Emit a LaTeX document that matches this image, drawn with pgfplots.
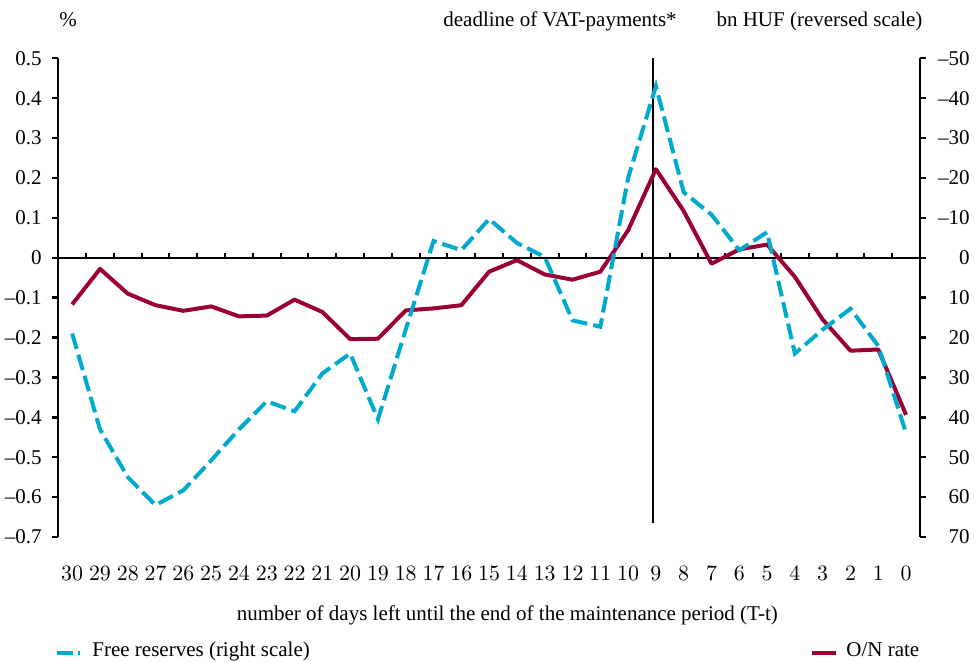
\documentclass[border=0pt]{standalone}
\usepackage{pgfplots}
\pgfplotsset{compat=1.18}
\usepackage{fontspec}
\setmainfont{Liberation Serif}

\definecolor{onred}{RGB}{155,0,52}
\definecolor{frcyan}{RGB}{0,170,205}

% O/N rate, percent (left scale)
\pgfplotstableread{
day rate
30 -0.117
29 -0.028
28 -0.090
27 -0.119
26 -0.133
25 -0.122
24 -0.147
23 -0.145
22 -0.105
21 -0.136
20 -0.204
19 -0.203
18 -0.132
17 -0.127
16 -0.119
15 -0.035
14 -0.006
13 -0.042
12 -0.055
11 -0.035
10 0.069
9 0.222
8 0.117
7 -0.015
6 0.021
5 0.033
4 -0.048
3 -0.155
2 -0.233
1 -0.230
0 -0.394
}\onrate

% free reserves, bn HUF (right scale, reversed)
\pgfplotstableread{
day res
30 19
29 43
28 55
27 62
26 58.3
25 50.8
24 43
23 36
22 38.5
21 29
20 24
19 40.5
18 18
17 -4.2
16 -1.9
15 -9.7
14 -3.7
13 -0.2
12 15.7
11 17.3
10 -20
9 -43
8 -16.4
7 -10.8
6 -1.9
5 -6.4
4 24
3 18
2 12.8
1 22.1
0 44
}\freeres

\pgfplotsset{
  chart/.style={
    width=430.85pt, height=239.35pt, scale only axis,
    at={(0,0)}, anchor=south west,
    xmin=-0.5, xmax=30.5, x dir=reverse,
    clip=false,
    axis line style={black, line width=1.2pt},
    major tick style={draw=none},
  },
}

\begin{document}
\begin{tikzpicture}[font=\fontsize{10.5}{12}\selectfont]
\useasboundingbox (-29.15pt,-62.5pt) rectangle (458.85pt,268.5pt);

\begin{axis}[chart,
  axis y line*=left, axis x line*=bottom,
  x axis line style={draw=none},
  xtick={0,...,30},
  xticklabel style={anchor=base, yshift=-22pt},
  ymin=-0.7, ymax=0.5,
  ytick={-0.7,-0.6,-0.5,-0.4,-0.3,-0.2,-0.1,0,0.1,0.2,0.3,0.4,0.5},
  yticklabels={--0.7,--0.6,--0.5,--0.4,--0.3,--0.2,--0.1,0,0.1,0.2,0.3,0.4,0.5},
  yticklabel style={anchor=east, inner sep=0pt, xshift=-8.15pt},
]
  % outward ticks of the left scale
  \pgfplotsinvokeforeach{-0.7,-0.6,-0.5,-0.4,-0.3,-0.2,-0.1,0,0.1,0.2,0.3,0.4,0.5}{
    \draw[black, line width=1.2pt] (axis cs:30.5,#1) -- ([xshift=-3.2pt]axis cs:30.5,#1);
  }
  % zero line with small ticks between days, and the VAT deadline marker
  \draw[black, line width=1.2pt] (axis cs:30.5,0) -- (axis cs:-0.5,0);
  \pgfplotsinvokeforeach{0,...,29}{
    \draw[black, line width=1pt] (axis cs:#1+0.5,0) -- ([yshift=2.6pt]axis cs:#1+0.5,0);
  }
  \draw[black, line width=1pt] (axis cs:9.1,0.5) -- (axis cs:9.1,-0.665);
  \addplot[onred, line width=2pt, line join=round] table[x=day, y=rate] {\onrate};
\end{axis}

\begin{axis}[chart,
  axis y line*=right, axis x line=none,
  y dir=reverse,
  ymin=-50, ymax=70,
  ytick={-50,-40,-30,-20,-10,0,10,20,30,40,50,60,70},
  yticklabels={--50,--40,--30,--20,--10,0,10,20,30,40,50,60,70},
  yticklabel style={anchor=east, inner sep=0pt, xshift=25pt},
]
  % outward ticks of the right scale
  \pgfplotsinvokeforeach{-50,-40,-30,-20,-10,0,10,20,30,40,50,60,70}{
    \draw[black, line width=1.2pt] (axis cs:-0.5,#1) -- ([xshift=3.2pt]axis cs:-0.5,#1);
  }
  \addplot[frcyan, line width=2pt, dash pattern=on 8pt off 3pt] table[x=day, y=res] {\freeres};
\end{axis}

% titles above the axes
\node[anchor=base, inner sep=0pt] at (4.85pt,255pt) {\%};
\node[anchor=base, inner sep=0pt] at (250.85pt,255pt) {deadline of VAT-payments*};
\node[anchor=base, inner sep=0pt] at (380.6pt,255pt) {bn HUF (reversed scale)};
\node[anchor=base, inner sep=0pt] at (224.5pt,-42pt)
  {number of days left until the end of the maintenance period (T-t)};

% legend
\draw[frcyan, line width=2pt, dash pattern=on 8pt off 2.5pt] (-0.65pt,-58pt) -- (11pt,-58pt);
\node[anchor=base west, inner sep=0pt] at (16.85pt,-60pt) {Free reserves (right scale)};
\draw[onred, line width=2pt] (376.85pt,-58pt) -- (388.85pt,-58pt);
\node[anchor=base west, inner sep=0pt] at (393.85pt,-60pt) {O/N rate};
\end{tikzpicture}
\end{document}
